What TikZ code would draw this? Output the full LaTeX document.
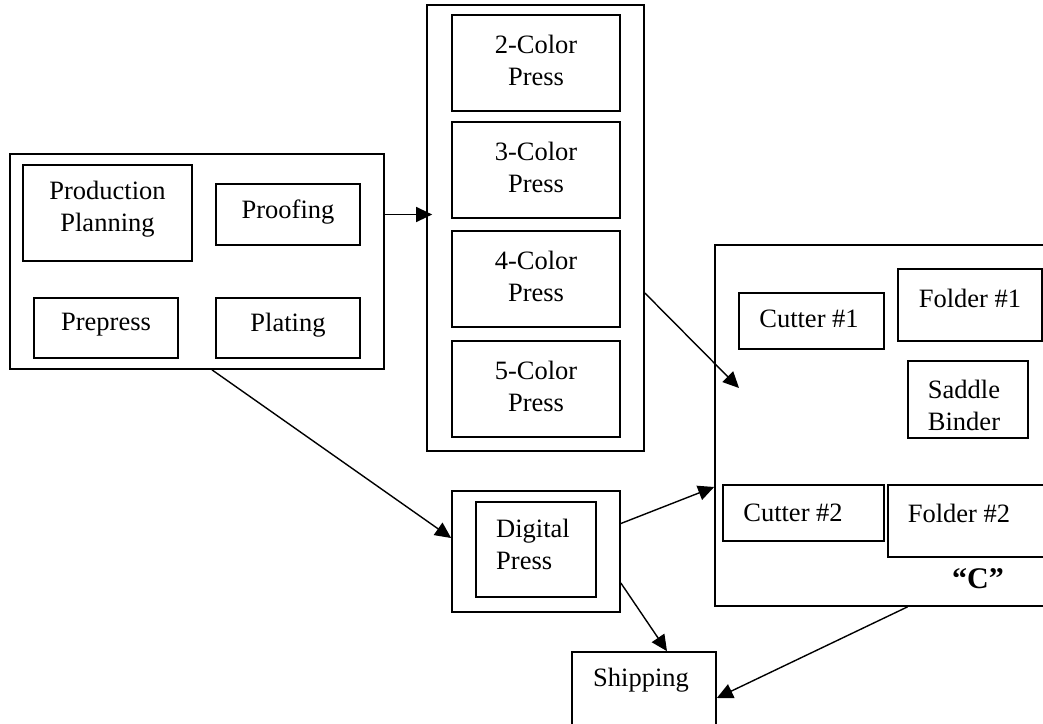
\documentclass[tikz,border=0pt]{standalone}
\usepackage{fontspec}
\setmainfont{Liberation Serif}
\usetikzlibrary{arrows.meta}
\begin{document}
\begin{tikzpicture}[x=1pt,y=-1pt,
  box/.style={draw,line width=1.7pt,inner sep=0pt},
  txt/.style={inner sep=0pt,align=center,font=\fontsize{26.5}{32}\selectfont},
  arr/.style={line width=1.4pt,-{Triangle[length=16pt,width=15pt]}}]
\useasboundingbox (0,0) rectangle (1043,723);
\clip (0,0) rectangle (1043,723);
% left group
\node[box,minimum width=374pt,minimum height=215pt] (lg) at (197,261.5) {};
\node[box,minimum width=169pt,minimum height=96pt] (pp) at (107.5,213) {};
\node[txt] (ppt) at (107.5,209) {Production\\Planning};
\node[box,minimum width=144pt,minimum height=61pt] (pf) at (288,214.5) {};
\node[txt] (pft) at (288,212) {Proofing};
\node[box,minimum width=144pt,minimum height=60pt] (pre) at (106,328) {};
\node[txt] (pret) at (106,325) {Prepress};
\node[box,minimum width=144pt,minimum height=60pt] (pl) at (288,328) {};
\node[txt] (plt) at (288,325) {Plating};
% presses
\node[box,minimum width=217pt,minimum height=446pt] (pr) at (535.5,228) {};
\node[box,minimum width=168pt,minimum height=96pt] (p2) at (536,63) {};
\node[txt] (p2t) at (536,60) {2-Color\\Press};
\node[box,minimum width=168pt,minimum height=96pt] (p3) at (536,170) {};
\node[txt] (p3t) at (536,167) {3-Color\\Press};
\node[box,minimum width=168pt,minimum height=96pt] (p4) at (536,279) {};
\node[txt] (p4t) at (536,276) {4-Color\\Press};
\node[box,minimum width=168pt,minimum height=96pt] (p5) at (536,389) {};
\node[txt] (p5t) at (536,386) {5-Color\\Press};
% finishing
\node[box,minimum width=385pt,minimum height=361pt] (cb) at (907.5,425.5) {};
\node[box,minimum width=145pt,minimum height=56pt] (c1) at (811.5,321) {};
\node[txt] (c1t) at (809,319) {Cutter \#1};
\node[box,minimum width=144pt,minimum height=72pt] (f1) at (970,305) {};
\node[txt] (f1t) at (970,298) {Folder \#1};
\node[box,minimum width=120pt,minimum height=77pt] (sb) at (968,399.5) {};
\node[txt] (sbt) at (964,405) {Saddle\\Binder};
\node[box,minimum width=161pt,minimum height=56pt] (c2) at (803.5,513) {};
\node[txt] (c2t) at (793,513) {Cutter \#2};
\node[box,minimum width=172pt,minimum height=72pt] (f2) at (974,521) {};
\node[txt] (f2t) at (959,513) {Folder \#2};
\node[txt,font=\fontsize{30}{34}\selectfont\bfseries] (ct) at (978,579) {“C”};
% digital
\node[box,minimum width=168pt,minimum height=121pt] (dp) at (536,551.5) {};
\node[box,minimum width=120pt,minimum height=95pt] (dpi) at (536,549.5) {};
\node[txt,align=left] (dpt) at (533,544) {Digital\\Press};
% shipping
\node[box,minimum width=144pt,minimum height=108pt] (sh) at (644,706) {};
\node[txt] (sht) at (641,680) {Shipping};
% arrows
\coordinate (c4tip) at (739,388);
\draw[arr,shorten >=-6pt] (pf -| lg.east) -- (pf -| pr.west);
\draw[arr] ([yshift=-65pt]pr.east) -- (c4tip);
\draw[arr] ([xshift=15pt]lg.south) -- ([yshift=13.5pt]dp.west);
\draw[arr] ([yshift=28pt]dp.east) -- ([yshift=-61.5pt]cb.west);
\draw[arr] ([yshift=-31.5pt]dp.east) -- ([xshift=23pt]sh.north);
\draw[arr] (cb.south) -- ([yshift=8pt]sh.east);
\end{tikzpicture}
\end{document}
